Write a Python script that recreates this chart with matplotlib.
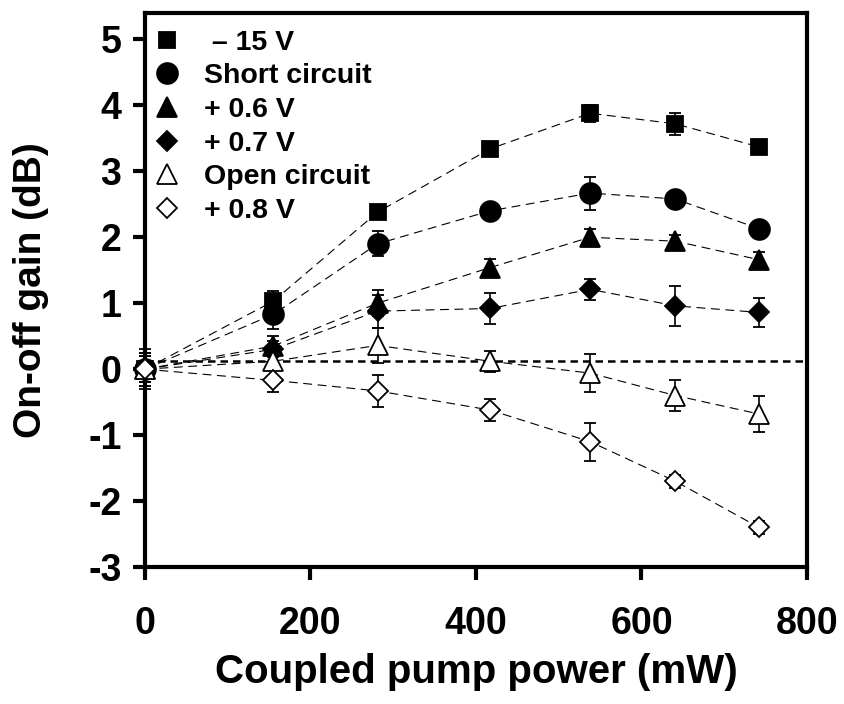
import numpy as np
import matplotlib
matplotlib.use("Agg")
import matplotlib.pyplot as plt
from matplotlib.lines import Line2D

plt.rcParams['font.family'] = ['Liberation Sans', 'DejaVu Sans']
plt.rcParams['font.weight'] = 'bold'
plt.rcParams['axes.unicode_minus'] = False

# potencia de bombeo acoplada (mW)
potencia = [0, 155, 281, 417, 538, 641, 742]

# ganancia on-off (dB) y barras de error para cada condicion
g_m15 = [0, 1.03, 2.38, 3.34, 3.88, 3.72, 3.37]
e_m15 = [0.30, 0.15, 0.10, 0.07, 0.13, 0.17, 0.06]
g_corto = [0, 0.83, 1.90, 2.40, 2.67, 2.58, 2.13]
e_corto = [0.25, 0.22, 0.19, 0.06, 0.25, 0.06, 0.06]
g_p06 = [0, 0.35, 1.00, 1.54, 2.00, 1.94, 1.66]
e_p06 = [0.25, 0.15, 0.20, 0.13, 0.12, 0.10, 0.12]
g_p07 = [0, 0.30, 0.88, 0.92, 1.21, 0.96, 0.86]
e_p07 = [0.20, 0.12, 0.25, 0.24, 0.16, 0.30, 0.22]
g_abierto = [0, 0.12, 0.36, 0.12, -0.06, -0.40, -0.68]
e_abierto = [0.20, 0.10, 0.26, 0.16, 0.29, 0.24, 0.28]
g_p08 = [0, -0.17, -0.33, -0.62, -1.10, -1.70, -2.40]
e_p08 = [0.20, 0.17, 0.24, 0.16, 0.29, 0.10, 0.10]

linea_ref = 0.12

series = [
    (' \u2013 15 V', g_m15, e_m15, 's', 11.5, 'black'),
    ('Short circuit', g_corto, e_corto, 'o', 15, 'black'),
    ('+ 0.6 V', g_p06, e_p06, '^', 14.5, 'black'),
    ('+ 0.7 V', g_p07, e_p07, 'D', 10.5, 'black'),
    ('Open circuit', g_abierto, e_abierto, '^', 14.5, 'white'),
    ('+ 0.8 V', g_p08, e_p08, 'D', 10.5, 'white'),
]

fig = plt.figure(figsize=(8.45, 7.04), dpi=100)
ax = fig.add_axes([0.1716, 0.1946, 0.7834, 0.9815 - 0.1946])

ax.axhline(linea_ref, color='black', lw=1.8, ls=(0, (3, 2)), zorder=1)

handles = []
for etiqueta, g, e, marcador, tam, relleno in series:
    ax.plot(potencia, g, color='black', lw=0.8, ls=(0, (8, 5)), zorder=2)
    cont = ax.errorbar(potencia, g, yerr=e, fmt=marcador, ms=tam,
                       mfc=relleno, mec='black', mew=1.3, ecolor='black',
                       elinewidth=1.2, capsize=4.5, capthick=1.3, zorder=3)
    for art in cont.get_children():
        art.set_clip_on(False)
    handles.append(Line2D([], [], ls='none', marker=marcador, ms=tam,
                          mfc=relleno, mec='black', mew=1.3, label=etiqueta))

ax.set_xlim(0, 800)
ax.set_ylim(-3, 5.4)
ax.set_xticks([0, 200, 400, 600, 800])
ax.set_yticks([-3, -2, -1, 0, 1, 2, 3, 4, 5])

for lado in ax.spines.values():
    lado.set_linewidth(3)
ax.tick_params(axis='both', direction='out', length=9, width=3, labelsize=27)
ax.tick_params(axis='x', pad=19)
ax.tick_params(axis='y', pad=8)

ax.set_xlabel('Coupled pump power (mW)', fontsize=29, fontweight='bold')
ax.set_ylabel('On-off gain (dB)', fontsize=28, fontweight='bold')
ax.xaxis.set_label_coords(0.5, -0.155)
ax.yaxis.set_label_coords(-0.145, 0.5)

ax.legend(handles=handles, loc='upper left', bbox_to_anchor=(0.012, 0.97),
          frameon=False, fontsize=20.5, handlelength=1.0, handletextpad=0.8,
          labelspacing=0.27, borderpad=0, borderaxespad=0)

fig.savefig('out.png', dpi=100)
